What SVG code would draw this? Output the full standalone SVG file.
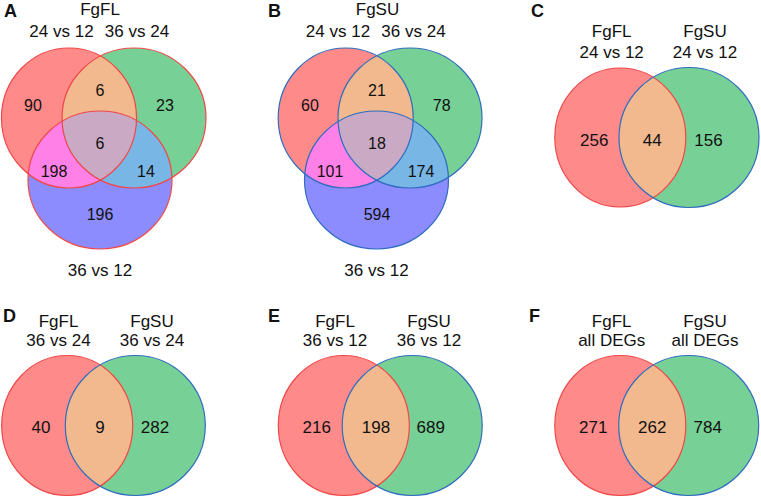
<svg xmlns="http://www.w3.org/2000/svg" width="761" height="497" viewBox="0 0 761 497">
<style>
text{font-family:"Liberation Sans",Arial,sans-serif;fill:#111;}
.lab{font-size:17px;text-anchor:middle;}
.num{font-size:16px;text-anchor:middle;}
.num2{font-size:17px;text-anchor:middle;}
.pl{font-size:18px;font-weight:bold;}
.r{fill:#FF8A8A;}
.g{fill:#77D095;}
.b{fill:#8C8CFF;}
.o{fill:#F2B98E;}
.m{fill:#FF80E6;}
.lb{fill:#78B6E6;}
.c{fill:#C9A9C4;}
.sr{fill:none;stroke:#F04848;stroke-width:1.2;}
.sb{fill:none;stroke:#2F6DBF;stroke-width:1.2;}
</style>
<defs>
<clipPath id="cAr"><ellipse cx="69" cy="118" rx="67.5" ry="70"/></clipPath>
<clipPath id="cAg"><ellipse cx="134" cy="118" rx="72" ry="70"/></clipPath>
<clipPath id="cBr"><ellipse cx="345.7" cy="118" rx="67.5" ry="70"/></clipPath>
<clipPath id="cBg"><ellipse cx="410" cy="118" rx="72" ry="70"/></clipPath>
<clipPath id="cCr"><ellipse cx="620.3" cy="137.5" rx="65.5" ry="69.5"/></clipPath>
<clipPath id="cDr"><ellipse cx="67.2" cy="425.5" rx="65.5" ry="70"/></clipPath>
<clipPath id="cEr"><ellipse cx="343.8" cy="425.5" rx="65.5" ry="70"/></clipPath>
<clipPath id="cFr"><ellipse cx="620.3" cy="425.5" rx="65.5" ry="70"/></clipPath>
</defs>

<g id="panelA">
<text class="pl" x="4" y="17">A</text>
<text class="lab" x="100" y="15">FgFL</text>
<text class="lab" x="61.5" y="37">24 vs 12</text>
<text class="lab" x="137" y="37">36 vs 24</text>
<ellipse class="r" cx="69" cy="118" rx="67.5" ry="70"/>
<ellipse class="g" cx="134" cy="118" rx="72" ry="70"/>
<ellipse class="b" cx="100" cy="180" rx="72" ry="69"/>
<ellipse class="o" cx="134" cy="118" rx="72" ry="70" clip-path="url(#cAr)"/>
<ellipse class="m" cx="100" cy="180" rx="72" ry="69" clip-path="url(#cAr)"/>
<ellipse class="lb" cx="100" cy="180" rx="72" ry="69" clip-path="url(#cAg)"/>
<g clip-path="url(#cAg)"><ellipse class="c" cx="100" cy="180" rx="72" ry="69" clip-path="url(#cAr)"/></g>
<ellipse class="sr" cx="69" cy="118" rx="67.5" ry="70"/>
<ellipse class="sr" cx="134" cy="118" rx="72" ry="70"/>
<ellipse class="sr" cx="100" cy="180" rx="72" ry="69"/>
<text class="num" x="33" y="111">90</text>
<text class="num" x="100" y="96">6</text>
<text class="num" x="165" y="111">23</text>
<text class="num" x="100" y="149">6</text>
<text class="num" x="54" y="177">198</text>
<text class="num" x="146" y="177">14</text>
<text class="num" x="100" y="220">196</text>
<text class="lab" x="100" y="276">36 vs 12</text>
</g>

<g id="panelB">
<text class="pl" x="268" y="17">B</text>
<text class="lab" x="377.5" y="15">FgSU</text>
<text class="lab" x="338" y="37">24 vs 12</text>
<text class="lab" x="413.5" y="37">36 vs 24</text>
<ellipse class="r" cx="345.7" cy="118" rx="67.5" ry="70"/>
<ellipse class="g" cx="410" cy="118" rx="72" ry="70"/>
<ellipse class="b" cx="376.5" cy="180" rx="72" ry="69"/>
<ellipse class="o" cx="410" cy="118" rx="72" ry="70" clip-path="url(#cBr)"/>
<ellipse class="m" cx="376.5" cy="180" rx="72" ry="69" clip-path="url(#cBr)"/>
<ellipse class="lb" cx="376.5" cy="180" rx="72" ry="69" clip-path="url(#cBg)"/>
<g clip-path="url(#cBg)"><ellipse class="c" cx="376.5" cy="180" rx="72" ry="69" clip-path="url(#cBr)"/></g>
<ellipse class="sb" cx="345.7" cy="118" rx="67.5" ry="70"/>
<ellipse class="sb" cx="410" cy="118" rx="72" ry="70"/>
<ellipse class="sb" cx="376.5" cy="180" rx="72" ry="69"/>
<text class="num" x="310" y="111">60</text>
<text class="num" x="377" y="96">21</text>
<text class="num" x="441.7" y="111">78</text>
<text class="num" x="377" y="149">18</text>
<text class="num" x="330" y="177">101</text>
<text class="num" x="421" y="177">174</text>
<text class="num" x="377" y="220">594</text>
<text class="lab" x="376.5" y="276">36 vs 12</text>
</g>

<g id="panelC">
<text class="pl" x="531" y="17">C</text>
<text class="lab" x="611.7" y="37">FgFL</text>
<text class="lab" x="611.7" y="58">24 vs 12</text>
<text class="lab" x="705" y="37">FgSU</text>
<text class="lab" x="705" y="58">24 vs 12</text>
<ellipse class="r" cx="620.3" cy="137.5" rx="65.5" ry="69.5"/>
<circle class="g" cx="689" cy="137.5" r="70"/>
<circle class="o" cx="689" cy="137.5" r="70" clip-path="url(#cCr)"/>
<ellipse class="sr" cx="620.3" cy="137.5" rx="65.5" ry="69.5"/>
<circle class="sb" cx="689" cy="137.5" r="70"/>
<text class="num2" x="594.3" y="146">256</text>
<text class="num2" x="652.3" y="146">44</text>
<text class="num2" x="708.5" y="146">156</text>
</g>

<g id="panelD">
<text class="pl" x="3" y="322">D</text>
<text class="lab" x="58.5" y="327">FgFL</text>
<text class="lab" x="58.5" y="346">36 vs 24</text>
<text class="lab" x="152" y="327">FgSU</text>
<text class="lab" x="152" y="346">36 vs 24</text>
<ellipse class="r" cx="67.2" cy="425.5" rx="65.5" ry="70"/>
<circle class="g" cx="135.3" cy="425.5" r="70"/>
<circle class="o" cx="135.3" cy="425.5" r="70" clip-path="url(#cDr)"/>
<ellipse class="sr" cx="67.2" cy="425.5" rx="65.5" ry="70"/>
<circle class="sb" cx="135.3" cy="425.5" r="70"/>
<text class="num2" x="41" y="432.5">40</text>
<text class="num2" x="100" y="432.5">9</text>
<text class="num2" x="155" y="432.5">282</text>
</g>

<g id="panelE">
<text class="pl" x="268" y="322">E</text>
<text class="lab" x="335" y="327">FgFL</text>
<text class="lab" x="335" y="346">36 vs 12</text>
<text class="lab" x="429" y="327">FgSU</text>
<text class="lab" x="429" y="346">36 vs 12</text>
<ellipse class="r" cx="343.8" cy="425.5" rx="65.5" ry="70"/>
<circle class="g" cx="412.2" cy="425.5" r="70"/>
<circle class="o" cx="412.2" cy="425.5" r="70" clip-path="url(#cEr)"/>
<ellipse class="sr" cx="343.8" cy="425.5" rx="65.5" ry="70"/>
<circle class="sb" cx="412.2" cy="425.5" r="70"/>
<text class="num2" x="316.7" y="432.5">216</text>
<text class="num2" x="376" y="432.5">198</text>
<text class="num2" x="430.7" y="432.5">689</text>
</g>

<g id="panelF">
<text class="pl" x="529" y="322">F</text>
<text class="lab" x="611.7" y="327">FgFL</text>
<text class="lab" x="611.7" y="346">all DEGs</text>
<text class="lab" x="705" y="327">FgSU</text>
<text class="lab" x="705" y="346">all DEGs</text>
<ellipse class="r" cx="620.3" cy="425.5" rx="65.5" ry="70"/>
<circle class="g" cx="688.7" cy="425.5" r="70"/>
<circle class="o" cx="688.7" cy="425.5" r="70" clip-path="url(#cFr)"/>
<ellipse class="sr" cx="620.3" cy="425.5" rx="65.5" ry="70"/>
<circle class="sb" cx="688.7" cy="425.5" r="70"/>
<text class="num2" x="593.3" y="432.5">271</text>
<text class="num2" x="652.3" y="432.5">262</text>
<text class="num2" x="707.7" y="432.5">784</text>
</g>

<g id="connectors"/>
</svg>
